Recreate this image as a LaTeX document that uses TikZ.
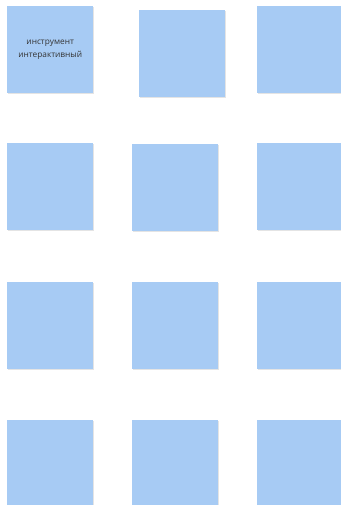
\documentclass[tikz,border=0pt]{standalone}
\usepackage{fontspec}
\setmainfont{Open Sans}
\definecolor{notecol}{HTML}{A7CBF4}
\definecolor{shadowcol}{HTML}{E4E4E4}
\definecolor{textcol}{HTML}{333333}
\tikzset{
  note/.style={fill=notecol, draw=none, minimum width=86pt, minimum height=87pt, inner sep=0pt, anchor=north west, align=center, text=textcol, font=\fontsize{8.3}{12.5}\selectfont},
  noteshadow/.style={fill=shadowcol, draw=none}
}
\begin{document}
\begin{tikzpicture}[x=1pt,y=-1pt]
\useasboundingbox (0,0) rectangle (340,505);
% shadows
\foreach \x/\y in {7/6,139/10,257/6,7/143,132/144,257/143,7/282,132/282,257/282,7/420,132/420,257/420}{
  \fill[noteshadow] (\x+1.2,\y+1.2) rectangle (\x+87.2,\y+88.2);
}
\node[note] (n11) at (7,6) {инструмент\\интерактивный};
\node[note] (n12) at (139,10) {};
\node[note] (n13) at (257,6) {};
\node[note] (n21) at (7,143) {};
\node[note] (n22) at (132,144) {};
\node[note] (n23) at (257,143) {};
\node[note] (n31) at (7,282) {};
\node[note] (n32) at (132,282) {};
\node[note] (n33) at (257,282) {};
\node[note] (n41) at (7,420) {};
\node[note] (n42) at (132,420) {};
\node[note] (n43) at (257,420) {};
\end{tikzpicture}
\end{document}
